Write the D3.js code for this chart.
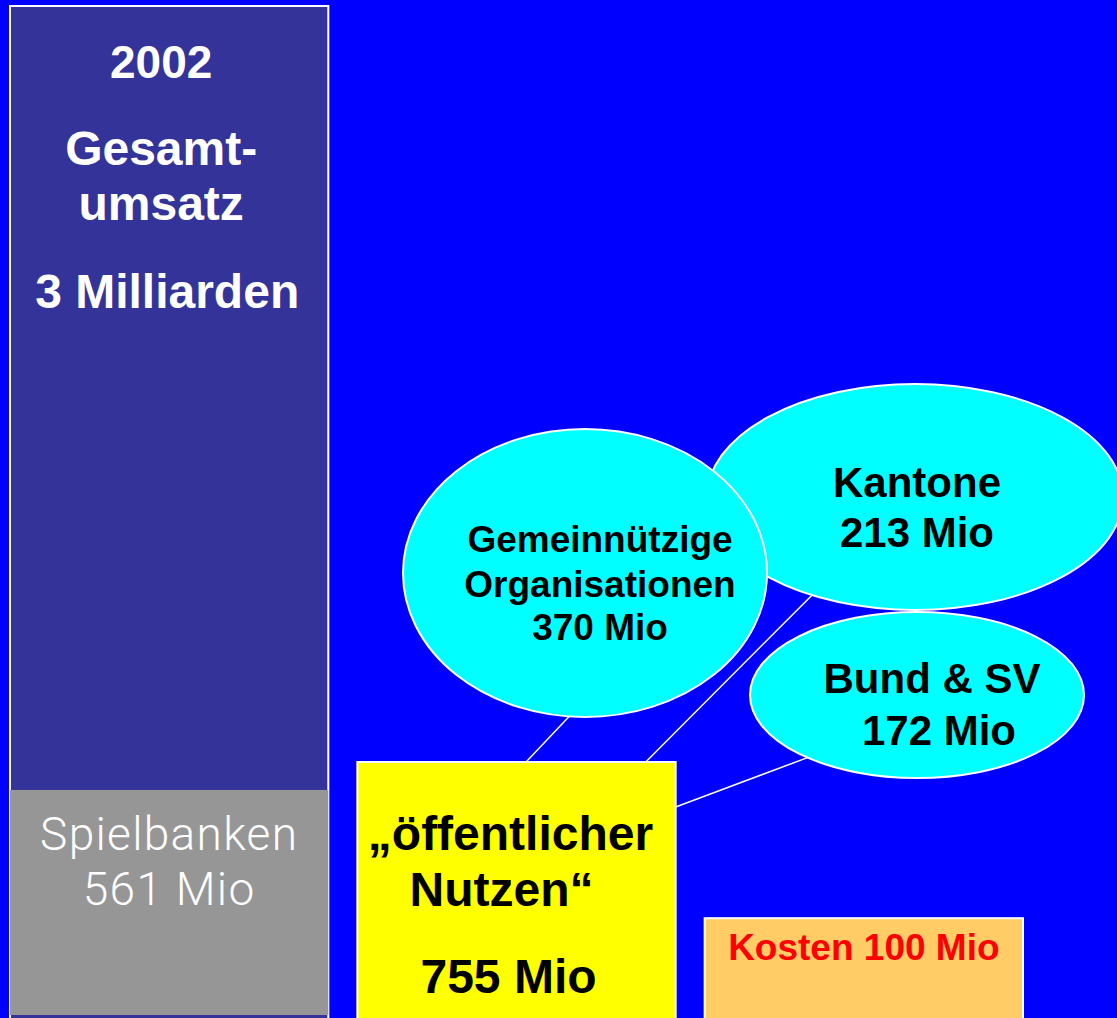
<!DOCTYPE html>
<html>
<head>
<meta charset="utf-8">
<script src="https://cdn.jsdelivr.net/npm/d3@7"></script>
<style>
body { margin: 0; background: #0000ff; }
svg { display: block; }
text { font-family: 'Liberation Sans', Arial, Helvetica, sans-serif; font-weight: bold; text-anchor: middle; }
</style>
</head>
<body>
<div id="chart-container"></div>
<script>
// Spielbanken 2002, Werte in Mio CHF
const columns = ['Gesamtumsatz', 'Nutzen', 'Kosten'];
const titleLines = ['2002', 'Gesamt-', 'umsatz', '3 Milliarden'];
const boxKeys = ['Gesamtumsatz', 'Nutzen', 'Kosten'];
const boxValues = [561, 755, 100];
const boxLabels = [['Spielbanken', '561 Mio'], ['„öffentlicher', 'Nutzen“', '755 Mio'], ['Kosten 100 Mio']];
const shareNames = ['Gemeinnützige Organisationen', 'Kantone', 'Bund & SV'];
const shareValues = [370, 213, 172];
const shareLabels = [['Gemeinnützige', 'Organisationen', '370 Mio'], ['Kantone', '213 Mio'], ['Bund & SV', '172 Mio']];

const svgCanvas = {width: 1117, height: 1018};
const boxColors = ['#969696', '#ffff00', '#ffcc66'];
const boxTextColors = ['#ffffff', '#000000', '#ff0000'];

// layout of the labels / bubbles (schematic picture)
const titleY = [78, 165, 220, 308];
const titleSize = [46, 48, 48, 48];
const titleDx = [-8, -8, -8, -2];
const boxBase = [1015, 1020, 1020];
const boxTextY = [[850, 905], [850, 906, 993], [960]];
const boxTextDx = [[0, 0], [-6, -15, -8], [0]];
const boxTextSize = [46, 48, 37];
const bubbles = [
    {cx: 585, cy: 573, rx: 182, ry: 144, size: 37, lineY: [552, 597, 640], dx: [15, 15, 15], angle: 95, from: [0.53, 0]},
    {cx: 915, cy: 497, rx: 208, ry: 113, size: 42, lineY: [497, 547], dx: [2, 2], angle: 119.7, from: [0.906, 0]},
    {cx: 917, cy: 695, rx: 167, ry: 83, size: 42, lineY: [693, 745], dx: [15, 22], angle: 131, from: [1, 45]}
];

const xScale = d3.scaleBand()
    .domain(columns)
    .range([10, 1023])
    .paddingInner(0.0835);

const hScale = d3.scalePow()
    .exponent(0.46)
    .domain([0, 755])
    .range([0, 258]);

const svg = d3.select('#chart-container')
    .append('svg')
    .attr('width', svgCanvas.width)
    .attr('height', svgCanvas.height);

svg.append('rect')
    .attr('width', svgCanvas.width)
    .attr('height', svgCanvas.height)
    .attr('fill', '#0000ff');

// total turnover bar
svg.append('rect')
    .attr('x', xScale('Gesamtumsatz'))
    .attr('y', 6)
    .attr('width', xScale.bandwidth())
    .attr('height', 1040)
    .attr('fill', '#333399')
    .attr('stroke', '#ffffff')
    .attr('stroke-width', 2);

svg.selectAll('text.title')
    .data(titleLines)
    .enter()
    .append('text')
    .attr('class', 'title')
    .attr('x', (d, i) => xScale('Gesamtumsatz') + xScale.bandwidth() / 2 + titleDx[i])
    .attr('y', (d, i) => titleY[i])
    .attr('font-size', (d, i) => titleSize[i])
    .attr('fill', '#ffffff')
    .text(d => d);

// connector lines (drawn first, boxes and bubbles cover the ends)
const yellowX = xScale('Nutzen');
const yellowTop = boxBase[1] - hScale(boxValues[1]);
svg.selectAll('line.link')
    .data(bubbles)
    .enter()
    .append('line')
    .attr('class', 'link')
    .attr('x1', d => yellowX + d.from[0] * xScale.bandwidth())
    .attr('y1', d => yellowTop + d.from[1])
    .attr('x2', d => d.cx + d.rx * Math.cos(d.angle * Math.PI / 180))
    .attr('y2', d => d.cy + d.ry * Math.sin(d.angle * Math.PI / 180))
    .attr('stroke', '#ffffff')
    .attr('stroke-width', 1.5);

// boxes
const boxes = svg.selectAll('g.box')
    .data(boxValues)
    .enter()
    .append('g')
    .attr('class', 'box');

boxes.append('rect')
    .attr('x', (d, i) => xScale(boxKeys[i]))
    .attr('y', (d, i) => boxBase[i] - hScale(d))
    .attr('width', xScale.bandwidth())
    .attr('height', (d, i) => i === 0 ? hScale(d) : hScale(d) + 20)
    .attr('fill', (d, i) => boxColors[i])
    .attr('stroke', (d, i) => i === 0 ? 'none' : '#ffffff')
    .attr('stroke-width', 2);

boxes.each(function(d, i) {
    d3.select(this).selectAll('text')
        .data(boxLabels[i])
        .enter()
        .append('text')
        .attr('x', (t, j) => xScale(boxKeys[i]) + xScale.bandwidth() / 2 + boxTextDx[i][j])
        .attr('y', (t, j) => boxTextY[i][j])
        .attr('font-size', boxTextSize[i])
        .attr('fill', boxTextColors[i])
        .style('font-family', i === 0 ? "Roboto, 'Liberation Sans', sans-serif" : null)
        .style('font-weight', i === 0 ? 300 : null)
        .style('letter-spacing', i === 0 ? '1.3px' : null)
        .text(t => t);
});

// bubbles: Kantone behind Gemeinnützige, Bund on top
const order = [1, 0, 2];
order.forEach(i => {
    const b = bubbles[i];
    const g = svg.append('g').attr('class', 'bubble').datum(shareValues[i]);
    g.append('ellipse')
        .attr('cx', b.cx)
        .attr('cy', b.cy)
        .attr('rx', b.rx)
        .attr('ry', b.ry)
        .attr('fill', '#00ffff')
        .attr('stroke', '#ffffff')
        .attr('stroke-width', 2);
    g.selectAll('text')
        .data(shareLabels[i])
        .enter()
        .append('text')
        .attr('x', (t, j) => b.cx + b.dx[j])
        .attr('y', (t, j) => b.lineY[j])
        .attr('font-size', b.size)
        .attr('fill', '#000000')
        .text(t => t);
});
</script>
</body>
</html>
